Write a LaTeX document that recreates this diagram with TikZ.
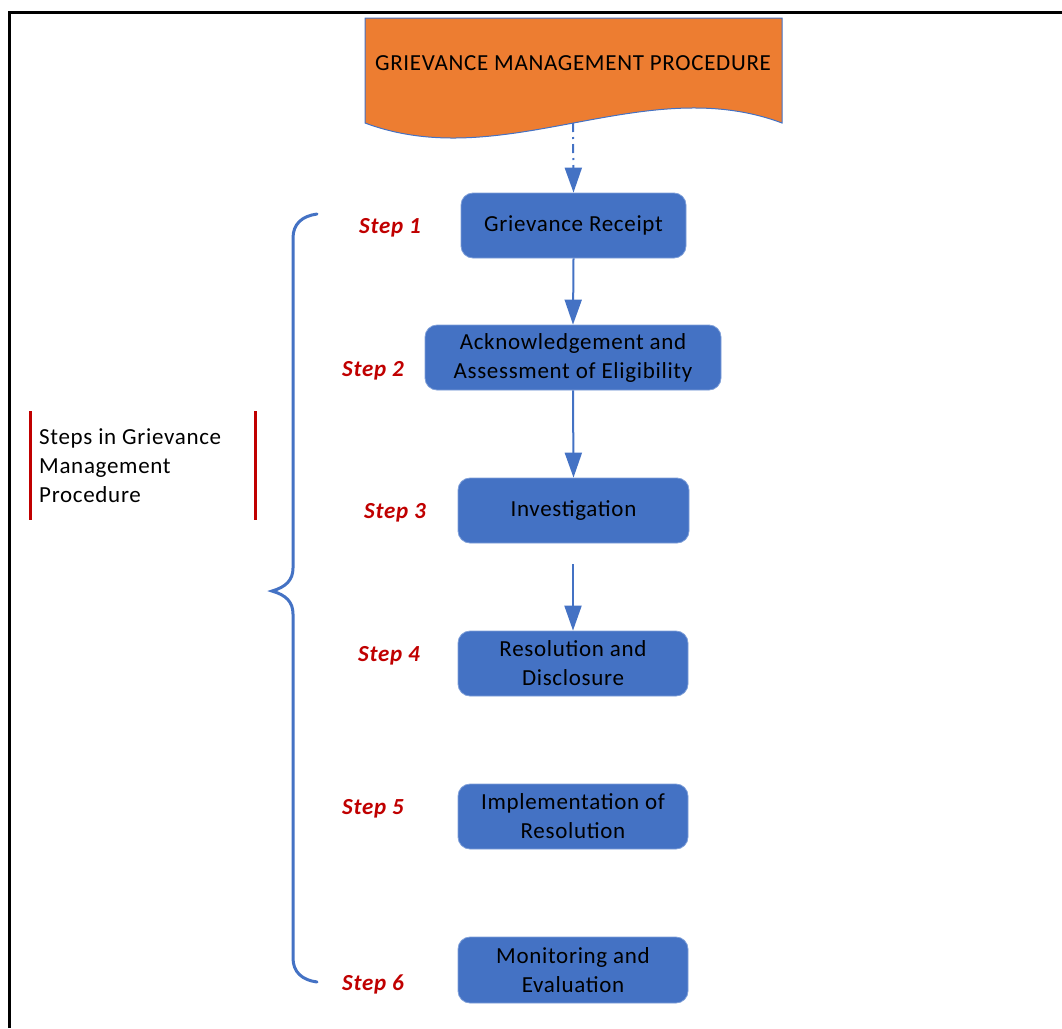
\documentclass[tikz,border=0pt]{standalone}
\usepackage{fontspec}
\setmainfont{Carlito}[LetterSpace=3]
\usetikzlibrary{arrows.meta}
\definecolor{oblue}{HTML}{4472C4}
\definecolor{oorange}{HTML}{ED7D31}
\definecolor{dred}{HTML}{C00000}
\definecolor{bedge}{HTML}{7F9FD8}
\tikzset{
  stepbox/.style={rectangle, rounded corners=12pt, fill=oblue, draw=bedge, line width=0.8pt,
    align=center, font=\fontsize{23}{29}\selectfont, text=black, inner sep=0pt},
  steplabel/.style={font=\fontsize{23}{26}\selectfont\bfseries\itshape, text=dred, inner sep=0pt},
  conn/.style={draw=oblue, line width=2pt, -{Triangle[width=17pt,length=25pt]}},
}
\begin{document}
\begin{tikzpicture}[x=1pt,y=-1pt]
\useasboundingbox (0,0) rectangle (1062,1028);
% frame
\draw[line width=3pt] (9,1028) -- (9,12) -- (1062,12);
% document shape
\fill[oorange, draw=oblue, line width=1pt] (365,18) -- (782,18) -- (782,123)
  .. controls (643,71) and (504,175) .. (365,123) -- cycle;
\node[font=\fontsize{23}{26}\selectfont, inner sep=0pt] (title) at (573,63) {GRIEVANCE MANAGEMENT PROCEDURE};
\coordinate (docbot) at (573,123);
% boxes
\node[stepbox, minimum width=225pt, minimum height=65pt] (b1) at (573.5,225.5) {Grievance Receipt};
\node[stepbox, minimum width=296pt, minimum height=65pt] (b2) at (573,357.5) {Acknowledgement and\\Assessment of Eligibility};
\node[stepbox, minimum width=231pt, minimum height=65pt] (b3) at (573.5,510.5) {Investigation};
\node[stepbox, minimum width=230pt, minimum height=65pt] (b4) at (573,663.5) {Resolution and\\Disclosure};
\node[stepbox, minimum width=230pt, minimum height=65pt] (b5) at (573,816.5) {Implementation of\\Resolution};
\node[stepbox, minimum width=230pt, minimum height=66pt] (b6) at (573,970) {Monitoring and\\Evaluation};
% connectors
\draw[conn, dash pattern=on 9pt off 5pt on 2pt off 5pt] (docbot) -- (b1.north);
\draw[conn] (b1.south) -- (b2.north);
\draw[conn] (b2.south) -- (b3.north);
\coordinate (a4) at (573,564);
\draw[conn] (a4) -- (b4.north);
% step labels
\node[steplabel] (s1) at (390,228) {Step 1};
\node[steplabel] (s2) at (373,371) {Step 2};
\node[steplabel] (s3) at (395,513) {Step 3};
\node[steplabel] (s4) at (389,656) {Step 4};
\node[steplabel] (s5) at (373,809) {Step 5};
\node[steplabel] (s6) at (373,984) {Step 6};
% brace
\draw[oblue, line width=3pt, line cap=round] (317,214) .. controls (302,216) and (293,224) .. (293,238)
  -- (293,568) .. controls (293,580) and (286,587) .. (272,591)
  .. controls (286,595) and (293,602) .. (293,614)
  -- (293,958) .. controls (293,972) and (302,980) .. (317,982);
% left label
\draw[dred, line width=3pt] (30,411) -- (30,520);
\draw[dred, line width=3pt] (255,411) -- (255,520);
\node[anchor=west, align=left, font=\fontsize{23}{29}\selectfont, inner sep=0pt] (lbl) at (39,466)
  {Steps in Grievance\\Management\\Procedure};
\end{tikzpicture}
\end{document}
